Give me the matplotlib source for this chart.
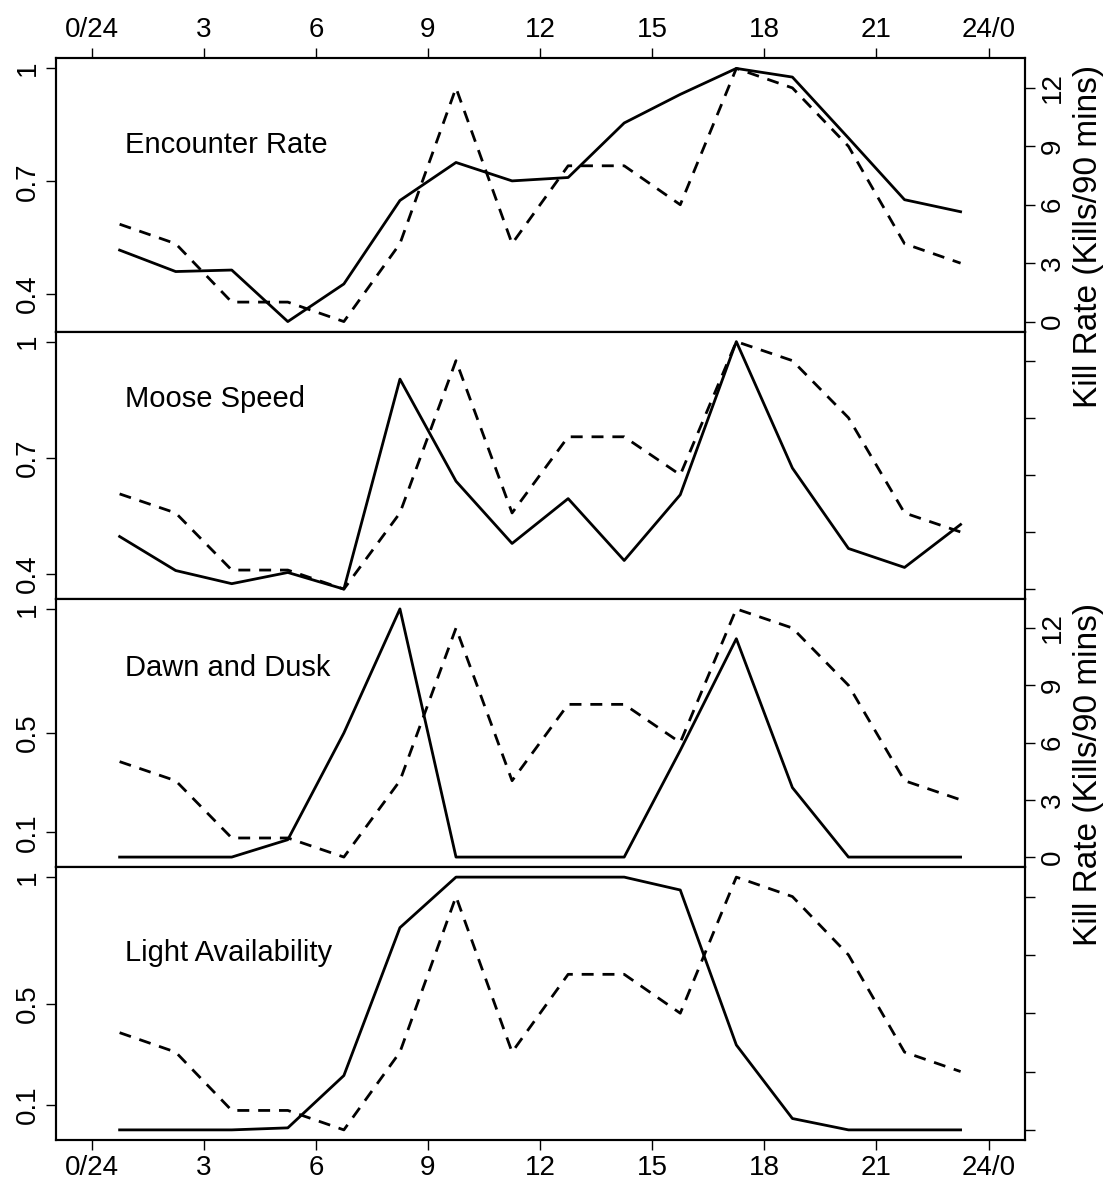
import matplotlib
matplotlib.use("Agg")
import matplotlib.pyplot as plt

plt.rcParams['font.family'] = ['Liberation Sans', 'DejaVu Sans']

# Hour of day (centre of each 90 min bin)
hours = [0.75, 2.25, 3.75, 5.25, 6.75, 8.25, 9.75, 11.25,
         12.75, 14.25, 15.75, 17.25, 18.75, 20.25, 21.75, 23.25]

# Kill rate (kills / 90 mins), dashed line in every panel
kill_rate = [5, 4, 1, 1, 0, 4, 12, 4, 8, 8, 6, 13, 12, 9, 4, 3]

# Scaled covariates, solid lines
encounter_rate = [0.517, 0.460, 0.464, 0.327, 0.427, 0.649, 0.750, 0.701,
                  0.710, 0.855, 0.931, 1.000, 0.977, 0.815, 0.651, 0.619]
moose_speed = [0.496, 0.408, 0.374, 0.403, 0.360, 0.903, 0.639, 0.478,
               0.594, 0.434, 0.604, 1.000, 0.673, 0.465, 0.416, 0.527]
dawn_dusk = [0.0, 0.0, 0.0, 0.07, 0.50, 1.0, 0.0, 0.0,
             0.0, 0.0, 0.43, 0.88, 0.28, 0.0, 0.0, 0.0]
light = [0.0, 0.0, 0.0, 0.008, 0.215, 0.80, 1.0, 1.0,
         1.0, 1.0, 0.949, 0.336, 0.045, 0.0, 0.0, 0.0]

panel_names = ["Encounter Rate", "Moose Speed", "Dawn and Dusk", "Light Availability"]
panel_values = [encounter_rate, moose_speed, dawn_dusk, light]
left_ticks = [[0.4, 0.7, 1.0], [0.4, 0.7, 1.0], [0.1, 0.5, 1.0], [0.1, 0.5, 1.0]]
left_labels = [["0.4", "0.7", "1"], ["0.4", "0.7", "1"], ["0.1", "0.5", "1"], ["0.1", "0.5", "1"]]
kill_ticks = [0, 3, 6, 9, 12]
hour_ticks = [0, 3, 6, 9, 12, 15, 18, 21, 24]
hour_labels = ["0/24", "3", "6", "9", "12", "15", "18", "21", "24/0"]

W, H = 1104, 1184
fig = plt.figure(figsize=(W / 100, H / 100), dpi=100)

# panel edges in pixels (top, bottom)
edges = [(58.3, 331.7), (331.7, 599), (599, 867), (867, 1140)]
text_y = [0.655, 0.719, 0.713, 0.656]
x0, x1 = 55.7, 1024.5

tick_kw = dict(length=7, width=1, pad=4, labelsize=20, direction='out')

for i in range(4):
    top, bot = edges[i]
    ax = fig.add_axes([x0 / W, 1 - bot / H, (x1 - x0) / W, (bot - top) / H])
    ax.plot(hours, panel_values[i], color='black', lw=2, solid_joinstyle='round')
    ax.set_xlim(-0.96, 24.96)
    ax.margins(y=0.04)

    ax2 = ax.twinx()
    ax2.plot(hours, kill_rate, color='black', lw=2, linestyle=(0, (4.3, 3.2)),
             dash_capstyle='butt')
    ax2.margins(y=0.04)
    ax2.set_xlim(-0.96, 24.96)

    for a in (ax, ax2):
        for s in a.spines.values():
            s.set_linewidth(1.5)

    ax.set_yticks(left_ticks[i])
    ax.set_yticklabels(left_labels[i])
    ax.tick_params(axis='y', labelrotation=90, **tick_kw)
    for lab in ax.get_yticklabels():
        lab.set_va('center')

    ax2.set_yticks(kill_ticks)
    if i in (0, 2):
        ax2.set_yticklabels([str(k) for k in kill_ticks])
    else:
        ax2.set_yticklabels([])
    ax2.tick_params(axis='y', labelrotation=90, **tick_kw)
    for lab in ax2.get_yticklabels():
        lab.set_va('center')

    ax.set_xticks(hour_ticks)
    ax.set_xticklabels(hour_labels)
    if i == 0:
        ax.xaxis.tick_top()
        ax.tick_params(axis='x', **tick_kw)
    elif i == 3:
        ax.tick_params(axis='x', **tick_kw)
    else:
        ax.tick_params(axis='x', length=0, labelbottom=False)

    ax.text(0.0715, text_y[i], panel_names[i], transform=ax.transAxes,
            fontsize=21, ha='left', va='baseline')

for yc in (236.5, 774.5):
    fig.text(1097 / W, 1 - yc / H, "Kill Rate (Kills/90 mins)", rotation=90,
             rotation_mode='anchor', ha='center', va='baseline', fontsize=24)

fig.savefig("out.png", dpi=100)
